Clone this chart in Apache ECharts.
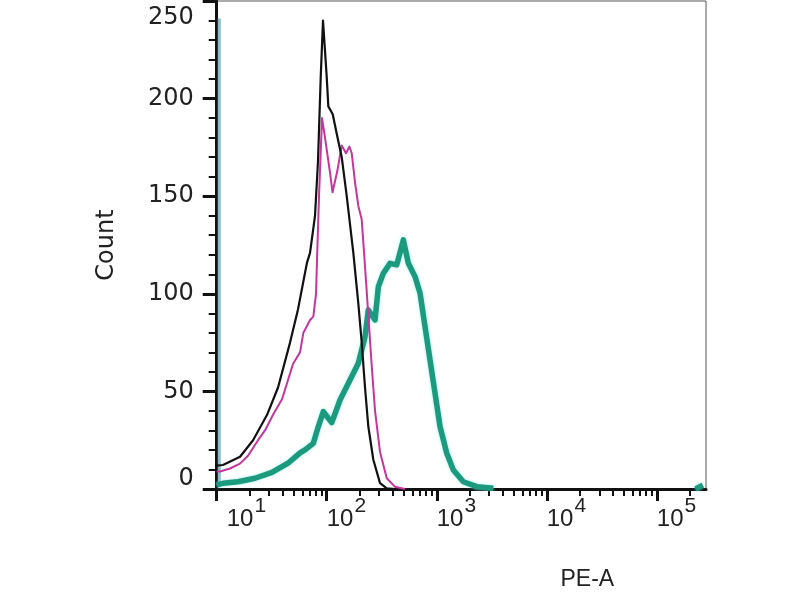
<!DOCTYPE html>
<html>
<head>
<meta charset="utf-8">
<script src="https://cdn.jsdelivr.net/npm/echarts@6/dist/echarts.min.js"></script>
<style>html,body{margin:0;padding:0;background:#fff}#c{width:800px;height:600px}</style>
</head>
<body>
<div id="c"></div>
<script>
// ---- data (PE-A value, event count) ----
const blackPE = [10, 10.3, 11.4, 16.3, 21.4, 28.7, 36.1, 46.4, 54.8, 66.2, 70.5, 78.3, 83.3, 88.2, 92.5, 100, 103.4, 113.4, 123.3, 136.9, 152, 174.5, 193.8, 208, 222.9, 238.8, 265.2, 305.1, 351.3, 420];
const blackCount = [12, 11, 12.3, 16.5, 25, 38, 52, 75, 92, 116, 121, 140, 168, 211, 240, 211, 196, 192, 182, 170, 150, 121, 95, 75, 52, 32, 15, 3, 0.3, 0];

const magentaPE = [10, 10.72, 13.21, 16.28, 19.25, 23.74, 27.49, 32.49, 39.23, 49.38, 57.19, 61.29, 70.5, 75.54, 79.94, 82.5, 85.1, 87.8, 90.6, 96.5, 107.2, 112.9, 124.9, 136.9, 141.5, 149.8, 160.5, 168.8, 180.9, 193.8, 208, 222.9, 238.8, 256.5, 274.9, 305.1, 351.3, 416.9, 515];
const magentaCount = [9, 9, 10.5, 13, 17, 25, 30, 38, 46, 64, 70, 80, 86.6, 88.3, 100, 126, 150, 170, 190, 180, 162, 152, 163, 176, 177, 172, 175.4, 172, 157, 145, 138, 114, 89, 63, 40, 19, 5.5, 1.2, 0];

// first (minimum) bin of the stained sample, piled up at the axis edge
const tealEdgePE = [10.55, 10.55];
const tealEdgeCount = [2, 241];
const tealPE = [10, 10.6, 11.41, 15.62, 22.29, 31.82, 44.48, 57.19, 63.5, 75.54, 83.88, 93.1, 96.5, 111.1, 132.1, 162.8, 193.8, 222.9, 238.8, 247.6, 274.9, 294.5, 327, 376.3, 433, 497, 552, 635, 705, 783, 869, 965, 1072, 1233, 1415, 1745, 2310, 3270, 100000, 225000, 262000];
const tealCount = [2, 2.5, 2.9, 3.7, 5.5, 8.5, 13.2, 18.5, 20, 23.4, 32, 39.6, 38.8, 34, 45.6, 55.8, 64.4, 78, 91.7, 92.6, 86.6, 103.6, 110.5, 115.6, 114.8, 127.6, 115.6, 108.8, 100.3, 83.1, 66.1, 49, 31.9, 18.3, 9.7, 3.7, 1.2, 0.4, null, 0, 2];

const xMajorTicks = [10, 100, 1000, 10000, 100000];
const xMinorTicks = [20,30,40,50,60,70,80,90,200,300,400,500,600,700,800,900,2000,3000,4000,5000,6000,7000,8000,9000,20000,30000,40000,50000,60000,70000,80000,90000,200000];
const yTickLabels = [0, 50, 100, 150, 200, 250];
const xName = 'PE-A';
const yName = 'Count';

function pairs(xs, ys) { return xs.map((x, i) => [x, ys[i]]); }

const chart = echarts.init(document.getElementById('c'), null, {renderer: 'canvas'});
const font = 'Liberation Sans, Arial, sans-serif';
const wide = 'DejaVu Sans, sans-serif';
chart.setOption({
  animation: false,
  backgroundColor: '#fff',
  grid: {left: 216.7, right: 94, top: 1, bottom: 111, show: true, borderColor: '#555', borderWidth: 1, backgroundColor: '#fff'},
  xAxis: [{
    type: 'log', min: 10, max: 280000, position: 'bottom',
    name: xName, nameLocation: 'middle', nameGap: 79,
    nameTextStyle: {fontFamily: font, fontSize: 23, color: '#222', padding: [0, 0, 0, 252]},
    axisLine: {show: true, lineStyle: {color: '#111', width: 3}},
    axisTick: {show: true, length: 12, lineStyle: {color: '#111', width: 3}, customValues: xMajorTicks},
    axisLabel: {
      show: true, margin: 17.5, align: 'left', customValues: xMajorTicks,
      formatter: function (v) {
        const e = Math.round(Math.log10(v));
        return (e === 1 ? '{b1|10}' : '{b|10}') + '{s|' + e + '}';
      },
      rich: {
        b: {fontFamily: font, fontSize: 24, lineHeight: 26, color: '#222'},
        b1: {fontFamily: font, fontSize: 24, lineHeight: 26, color: '#222', padding: [0, 0, 0, 10]},
        s: {fontFamily: font, fontSize: 21, lineHeight: 26, color: '#222', padding: [0, 0, 26, 1]}
      }
    },
    splitLine: {show: false}
  }, {
    type: 'log', min: 10, max: 280000, position: 'bottom', offset: 0,
    axisLine: {show: false},
    axisTick: {show: true, length: 7, lineStyle: {color: '#111', width: 2}, customValues: xMinorTicks},
    axisLabel: {show: false},
    splitLine: {show: false}
  }],
  yAxis: {
    type: 'value', min: 0, max: 250, interval: 50,
    name: yName, nameLocation: 'middle', nameGap: 98, nameRotate: 90,
    nameTextStyle: {fontFamily: wide, fontSize: 24, color: '#222'},
    axisLine: {show: true, lineStyle: {color: '#111', width: 3}},
    axisTick: {show: true, length: 14, lineStyle: {color: '#111', width: 3}},
    minorTick: {show: true, splitNumber: 5, length: 8, lineStyle: {color: '#111', width: 2}},
    axisLabel: {
      margin: 23,
      formatter: function (v) {
        if (v === 0) return '{lo|0}';
        if (v === 250) return '{hi|250}';
        return '{n|' + v + '}';
      },
      rich: {
        n: {fontFamily: wide, fontSize: 24, color: '#222'},
        lo: {fontFamily: wide, fontSize: 24, color: '#222', padding: [0, 0, 20, 0]},
        hi: {fontFamily: wide, fontSize: 24, color: '#222', padding: [34, 0, 0, 0]}
      }
    },
    splitLine: {show: false}
  },
  series: [{
    type: 'line', name: 'stained-edge', xAxisIndex: 0, data: pairs(tealEdgePE, tealEdgeCount),
    showSymbol: false, z: 1,
    lineStyle: {color: '#86bccb', width: 3}
  }, {
    type: 'line', name: 'stained', xAxisIndex: 0, data: pairs(tealPE, tealCount),
    showSymbol: false, connectNulls: false,
    lineStyle: {color: '#1b9a7d', width: 5.5, join: 'round', shadowColor: 'rgba(110,225,225,0.7)', shadowBlur: 3}
  }, {
    type: 'line', name: 'isotype', xAxisIndex: 0, data: pairs(magentaPE, magentaCount),
    showSymbol: false,
    lineStyle: {color: '#c4369b', width: 2, join: 'round'}
  }, {
    type: 'line', name: 'unstained', xAxisIndex: 0, data: pairs(blackPE, blackCount),
    showSymbol: false,
    lineStyle: {color: '#111111', width: 2.2, join: 'round'}
  }]
});
</script>
</body>
</html>
